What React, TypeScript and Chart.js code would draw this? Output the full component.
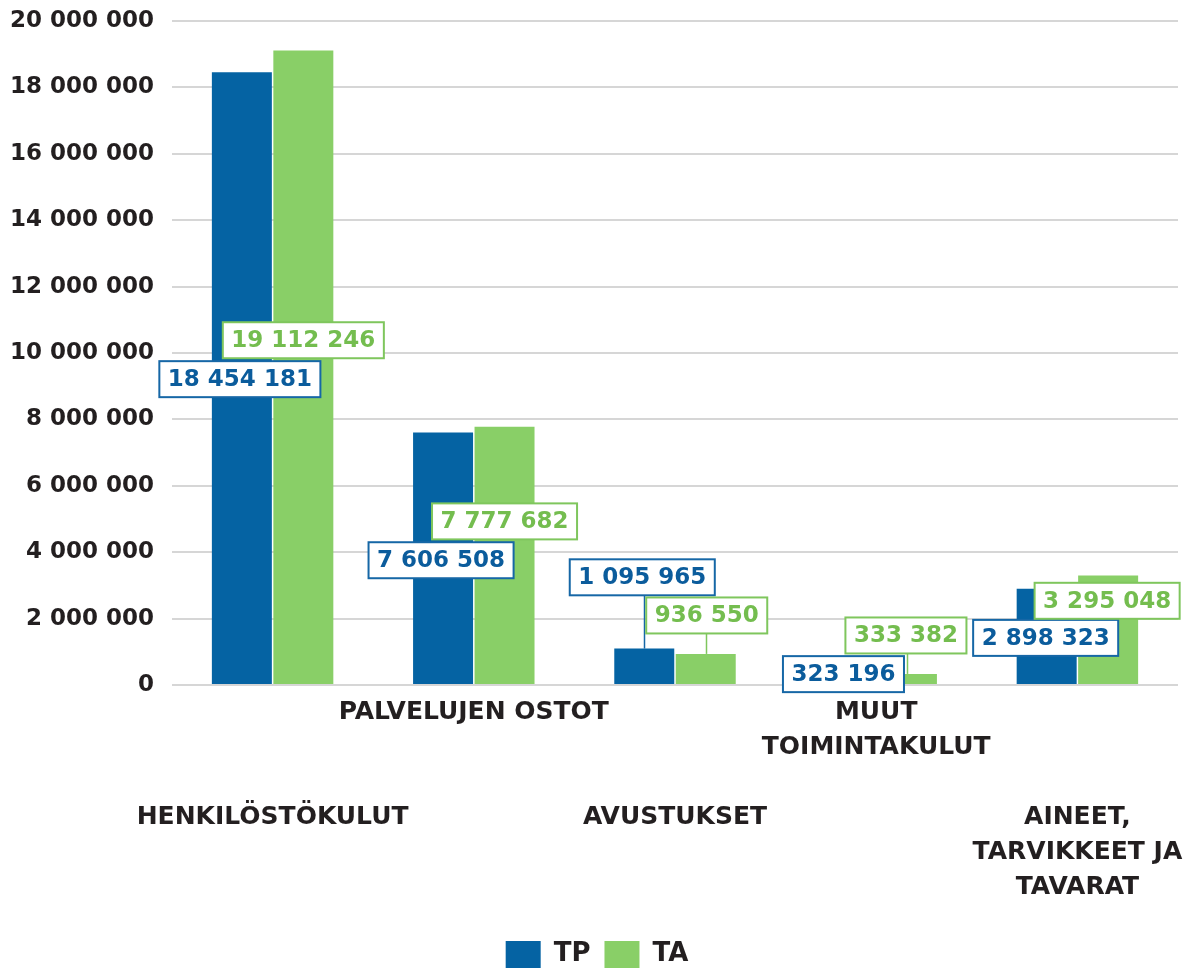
import React, { useEffect, useRef } from 'react';
import { Chart, registerables } from 'chart.js';

Chart.register(...registerables);

// ---- data ----
const categories: string[][] = [
  ['HENKILÖSTÖKULUT'],
  ['PALVELUJEN OSTOT'],
  ['AVUSTUKSET'],
  ['MUUT', 'TOIMINTAKULUT'],
  ['AINEET,', 'TARVIKKEET JA', 'TAVARAT'],
];
const seriesNames = ['TP', 'TA'];
const tpValues = [18454181, 7606508, 1095965, 323196, 2898323];
const taValues = [19112246, 7777682, 936550, 333382, 3295048];
const yMin = 0;
const yMax = 20000000;
const yStep = 2000000;

// ---- styles ----
const FONT = '"DejaVu Sans", "Liberation Sans", Arial, sans-serif';
const barColors = ['#0563a3', '#89cf67'];
const labelTextColors = ['#0b5c9c', '#74bd4f'];
const labelBorderColors = ['#1667a6', '#7fc65d'];
const textColor = '#231f20';
const gridColor = '#d6d6d6';
const transparent = 'rgba(0,0,0,0)';

// callout placement relative to bar centre (dx, dy, leader line)
const calloutOffsets: [number, number, boolean][][] = [
  [[-2, 1, false], [-2, 2, false], [-2, -89, true], [-2, -5, false], [-1, 1.5, false]],
  [[0, -27, false], [0, -34, false], [1, -53.5, true], [-1, -43.5, true], [-1, -29, false]],
];

const fmt = (v: number) => String(Math.round(v)).replace(/\B(?=(\d{3})+(?!\d))/g, ' ');

const calloutPlugin = {
  id: 'callouts',
  afterLayout(chart: any) {
    // centre the legend under the whole picture
    if (chart.legend) chart.legend.left = 16;
  },
  afterDatasetsDraw(chart: any) {
    const ctx: CanvasRenderingContext2D = chart.ctx;
    ctx.save();
    ctx.font = `bold 23px ${FONT}`;
    chart.data.datasets.forEach((ds: any, di: number) => {
      const meta = chart.getDatasetMeta(di);
      meta.data.forEach((bar: any, i: number) => {
        const { x, y, base } = bar.getProps(['x', 'y', 'base'], true);
        const [dx, dy, leader] = calloutOffsets[di][i];
        const cx = x + dx;
        const cy = (y + base) / 2 + dy;
        const text = fmt(ds.data[i]);
        const w = ctx.measureText(text).width + 17;
        const h = 36;
        ctx.strokeStyle = labelBorderColors[di];
        if (leader) {
          ctx.beginPath();
          ctx.moveTo(Math.round(x) + 0.5, cy + h / 2);
          ctx.lineTo(Math.round(x) + 0.5, y);
          ctx.lineWidth = 1.5;
          ctx.stroke();
        }
        ctx.lineWidth = 2;
        ctx.fillStyle = '#ffffff';
        ctx.fillRect(cx - w / 2, cy - h / 2, w, h);
        ctx.strokeRect(cx - w / 2, cy - h / 2, w, h);
        ctx.fillStyle = labelTextColors[di];
        ctx.textAlign = 'center';
        ctx.textBaseline = 'middle';
        ctx.fillText(text, cx, cy + 1);
      });
    });
    ctx.restore();
  },
};

export default function App() {
  const ref = useRef<HTMLCanvasElement>(null);

  useEffect(() => {
    if (!ref.current) return;
    const chart = new Chart(ref.current, {
      type: 'bar',
      data: {
        labels: categories,
        datasets: [
          {
            label: seriesNames[0],
            data: tpValues,
            backgroundColor: barColors[0],
            borderWidth: 0,
            categoryPercentage: 0.611,
            barPercentage: 0.976,
          },
          {
            label: seriesNames[1],
            data: taValues,
            backgroundColor: barColors[1],
            borderWidth: 0,
            categoryPercentage: 0.611,
            barPercentage: 0.976,
          },
        ],
      },
      options: {
        animation: false,
        responsive: true,
        maintainAspectRatio: false,
        layout: { padding: { top: 21, right: 14, left: 0, bottom: 0 } },
        plugins: {
          tooltip: { enabled: false },
          legend: {
            position: 'bottom',
            labels: {
              boxWidth: 35,
              boxHeight: 27,
              padding: 14,
              color: textColor,
              font: { family: FONT, size: 26, weight: 'bold' },
            },
          },
        },
        scales: {
          x: {
            grid: { display: false, drawTicks: true, tickLength: 10, tickColor: transparent },
            border: { display: false },
            afterFit: (s: any) => {
              s.height = 242;
            },
            ticks: {
              autoSkip: false,
              maxRotation: 0,
              minRotation: 0,
              padding: 0,
              color: textColor,
              font: { family: FONT, size: 25, weight: 'bold', lineHeight: 1.4 },
              callback: (_v: any, index: number) =>
                index % 2 === 0 ? ['', '', '', ...categories[index]] : categories[index],
            },
          },
          y: {
            min: yMin,
            max: yMax,
            afterFit: (s: any) => {
              s.width = 172;
            },
            grid: { color: gridColor, lineWidth: 2, drawTicks: true, tickLength: 18, tickColor: transparent },
            border: { display: false },
            ticks: {
              stepSize: yStep,
              padding: 0,
              color: textColor,
              font: { family: FONT, size: 23, weight: 'bold' },
              callback: (v: any) => fmt(Number(v)),
            },
          },
        },
      },
      plugins: [calloutPlugin],
    });
    return () => chart.destroy();
  }, []);

  return (
    <div
      style={{
        position: 'fixed',
        left: 0,
        top: 0,
        width: 1192,
        height: 969,
        overflow: 'hidden',
        background: '#ffffff',
      }}
    >
      <div style={{ position: 'relative', width: 1192, height: 978 }}>
        <canvas ref={ref} />
      </div>
    </div>
  );
}
